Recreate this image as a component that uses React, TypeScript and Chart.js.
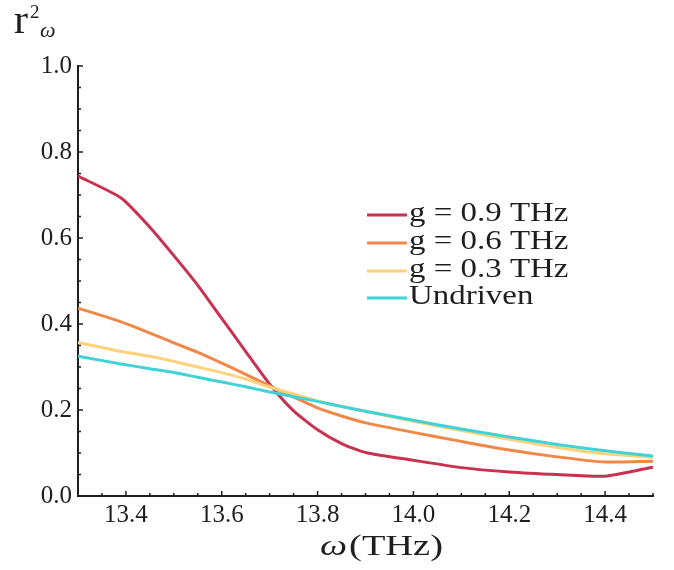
import React, { useEffect, useRef } from "react";
import { Chart, registerables } from "chart.js";

Chart.register(...registerables);

const xValues = [13.3, 13.39, 13.45, 13.5, 13.55, 13.6, 13.65, 13.7, 13.75, 13.8, 13.85, 13.9, 14.0, 14.1, 14.2, 14.3, 14.4, 14.5];
const g09Values = [0.744, 0.693, 0.625, 0.559, 0.49, 0.413, 0.336, 0.26, 0.198, 0.154, 0.122, 0.101, 0.083, 0.066, 0.056, 0.05, 0.046, 0.067];
const g06Values = [0.437, 0.405, 0.379, 0.356, 0.334, 0.309, 0.283, 0.256, 0.23, 0.205, 0.186, 0.17, 0.148, 0.127, 0.107, 0.091, 0.079, 0.081];
const g03Values = [0.357, 0.336, 0.325, 0.313, 0.3, 0.287, 0.272, 0.253, 0.237, 0.221, 0.209, 0.197, 0.174, 0.152, 0.132, 0.113, 0.098, 0.09];
const undrivenValues = [0.325, 0.307, 0.296, 0.287, 0.276, 0.265, 0.254, 0.242, 0.231, 0.22, 0.208, 0.197, 0.176, 0.156, 0.137, 0.12, 0.105, 0.093];

const seriesLabels = ["g = 0.9 THz", "g = 0.6 THz", "g = 0.3 THz", "Undriven"];
const seriesColors = ["#c8314f", "#f08848", "#fcd27c", "#40d2d6"];
const xTickValues = [13.4, 13.6, 13.8, 14.0, 14.2, 14.4];
const yTickValues = [0.0, 0.2, 0.4, 0.6, 0.8, 1.0];

const SERIF = "'Liberation Serif', 'Times New Roman', serif";
const INK = "#1e1e1e";

function stretchedText(ctx: any, text: string, x: number, y: number, font: string, sx: number) {
  ctx.save();
  ctx.font = font;
  ctx.translate(x, y);
  ctx.scale(sx, 1);
  ctx.fillText(text, 0, 0);
  ctx.restore();
}

const decorPlugin = {
  id: "decor",
  afterDraw(chart: any) {
    const ctx = chart.ctx;
    const xs = chart.scales.x;
    const ys = chart.scales.y;
    const area = chart.chartArea;
    ctx.save();
    // inward tick marks
    ctx.strokeStyle = INK;
    ctx.lineWidth = 1.5;
    for (let i = 0; i <= 20; i++) {
      const py = ys.getPixelForValue(i * 0.05);
      const len = i % 4 === 0 ? 5 : 3;
      ctx.beginPath();
      ctx.moveTo(area.left, py);
      ctx.lineTo(area.left + len, py);
      ctx.stroke();
    }
    for (let i = 0; i <= 24; i++) {
      const px = xs.getPixelForValue(13.3 + i * 0.05);
      const len = i % 4 === 2 ? 5 : 3;
      ctx.beginPath();
      ctx.moveTo(px, area.bottom);
      ctx.lineTo(px, area.bottom - len);
      ctx.stroke();
    }
    // legend
    const rows = [215, 243, 271, 298];
    ctx.lineWidth = 3;
    ctx.textBaseline = "middle";
    ctx.textAlign = "left";
    ctx.fillStyle = INK;
    seriesLabels.forEach((label, i) => {
      ctx.strokeStyle = seriesColors[i];
      ctx.beginPath();
      ctx.moveTo(367, rows[i]);
      ctx.lineTo(407, rows[i]);
      ctx.stroke();
      stretchedText(ctx, label, 409, rows[i] - 1, `27px ${SERIF}`, 1.22);
    });
    // x title
    ctx.textBaseline = "alphabetic";
    const sx = 1.28;
    ctx.font = `italic 30px ${SERIF}`;
    const wOmega = ctx.measureText("ω").width * sx;
    const start = 320;
    stretchedText(ctx, "ω", start, 555, `italic 30px ${SERIF}`, sx);
    stretchedText(ctx, "(THz)", start + wOmega + 2, 555, `30px ${SERIF}`, sx);
    // y title
    stretchedText(ctx, "r", 14, 33, `40px ${SERIF}`, 1.05);
    stretchedText(ctx, "2", 30, 18, `19px ${SERIF}`, 1);
    stretchedText(ctx, "ω", 40, 37, `italic 22px ${SERIF}`, 1);
    ctx.restore();
  },
};

export default function App() {
  const ref = useRef<HTMLCanvasElement>(null);
  useEffect(() => {
    if (!ref.current) return;
    const datasets = [g09Values, g06Values, g03Values, undrivenValues].map((vals, i) => ({
      label: seriesLabels[i],
      data: xValues.map((x, j) => ({ x, y: vals[j] })),
      borderColor: seriesColors[i],
      backgroundColor: seriesColors[i],
      borderWidth: 3,
      pointRadius: 0,
      tension: 0.2,
      fill: false,
    }));
    const chart = new Chart(ref.current, {
      type: "line",
      data: { datasets: datasets.slice().reverse() },
      plugins: [decorPlugin],
      options: {
        animation: false,
        responsive: false,
        devicePixelRatio: 1,
        layout: { padding: { top: 66, right: 21, left: 0, bottom: 0 } },
        plugins: { legend: { display: false }, tooltip: { enabled: false } },
        scales: {
          x: {
            type: "linear",
            min: 13.3,
            max: 14.5,
            afterBuildTicks: (scale: any) => {
              scale.ticks = xTickValues.map((v) => ({ value: v }));
            },
            afterFit: (scale: any) => {
              scale.height = 74;
            },
            grid: { display: false, drawTicks: false },
            border: { display: true, color: INK, width: 2 },
            ticks: {
              autoSkip: false,
              maxRotation: 0,
              padding: 4,
              color: INK,
              font: { family: SERIF, size: 25 },
              callback: (v: any) => Number(v).toFixed(1),
            },
          },
          y: {
            type: "linear",
            min: 0,
            max: 1,
            afterBuildTicks: (scale: any) => {
              scale.ticks = yTickValues.map((v) => ({ value: v }));
            },
            afterFit: (scale: any) => {
              scale.width = 78;
            },
            grid: { display: false, drawTicks: false },
            border: { display: true, color: INK, width: 2 },
            ticks: {
              padding: 6,
              color: INK,
              font: { family: SERIF, size: 25 },
              callback: (v: any) => Number(v).toFixed(1),
            },
          },
        },
      },
    });
    return () => chart.destroy();
  }, []);
  return (
    <div style={{ position: "fixed", left: 0, top: 0, width: 674, height: 570, background: "#fff" }}>
      <canvas ref={ref} width={674} height={570} style={{ width: 674, height: 570 }} />
    </div>
  );
}
